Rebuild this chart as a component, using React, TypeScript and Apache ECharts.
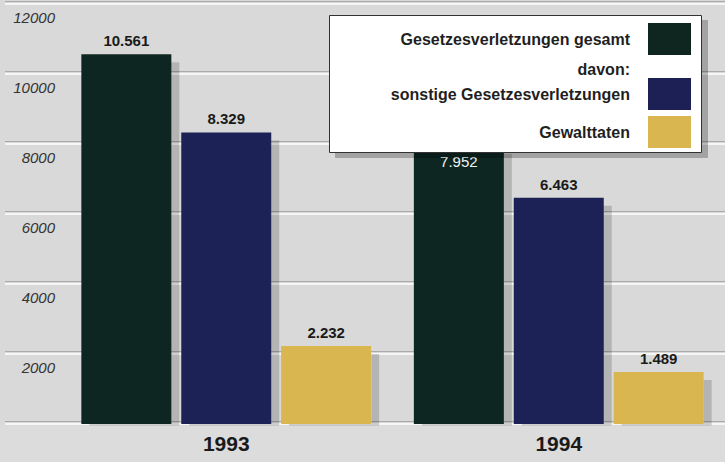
import React, { useEffect, useRef } from "react";
import * as echarts from "echarts";

const years = ["1993", "1994"];
const gesamt = [10561, 7952];
const sonstige = [8329, 6463];
const gewalt = [2232, 1489];
const seriesNames = [
  "Gesetzesverletzungen gesamt",
  "sonstige Gesetzesverletzungen",
  "Gewalttaten",
];
const colors = ["#0f2620", "#1c2054", "#d9b64f"];
const yMax = 12000;
const yStep = 2000;

const fmt = (v: number) => {
  const s = String(Math.round(v));
  return s.replace(/\B(?=(\d{3})+(?!\d))/g, ".");
};

const FONT = "'Liberation Sans', Arial, sans-serif";

export default function App() {
  const ref = useRef<HTMLDivElement>(null);
  useEffect(() => {
    document.body.style.margin = "0";
    const chart = echarts.init(ref.current!, null, { renderer: "svg" });
    const labelStyle = {
      show: true,
      position: "top" as const,
      distance: 6,
      fontFamily: FONT,
      fontWeight: "bold" as const,
      fontSize: 15,
      color: "#1a1a1a",
      formatter: (p: any) => fmt(p.value),
    };
    const itemShadow = {
      shadowColor: "rgba(0,0,0,0.17)",
      shadowOffsetX: 8,
      shadowOffsetY: 8,
      shadowBlur: 0,
    };
    const mk = (i: number, vals: number[]) => ({
      type: "bar",
      name: seriesNames[i],
      xAxisIndex: 2,
      yAxisIndex: 2,
      barWidth: 90,
      barGap: "11%",
      itemStyle: { color: colors[i], ...itemShadow },
      label: labelStyle,
      data: vals.map((v, j) =>
        i === 0 && j === 1
          ? {
              value: v,
              label: {
                position: "insideTop",
                distance: 8,
                color: "#f2f2f2",
                fontWeight: "normal",
              },
            }
          : v
      ),
    });
    const legendBase = (i: number, top: number) => ({
      data: [seriesNames[i]],
      orient: "vertical",
      align: "right",
      right: 34,
      top,
      padding: 0,
      itemWidth: 43,
      itemHeight: 32,
      icon: "rect",
      z: 5,
      selectedMode: false,
      textStyle: {
        fontFamily: FONT,
        fontWeight: "bold",
        fontSize: 16,
        color: "#1f1f1f",
        padding: [0, 13, 0, 0],
      },
    });
    const lineAxis = (g: number, color: string, width: number) => ({
      gridIndex: g,
      type: "value",
      min: 0,
      max: yMax,
      interval: yStep,
      axisLine: { show: false },
      axisTick: { show: false },
      axisLabel: { show: false },
      splitLine: { lineStyle: { color, width } },
    });
    chart.setOption({
      animation: false,
      backgroundColor: "#d9d9d9",
      grid: [
        { left: 5, right: 0, top: 1.5, bottom: 40.5 },
        { left: 5, right: 0, top: 4, bottom: 38 },
        { left: 60, right: 0, top: 4, bottom: 38 },
      ],
      xAxis: [
        { gridIndex: 0, type: "value", show: false, min: 0, max: 1 },
        { gridIndex: 1, type: "value", show: false, min: 0, max: 1 },
        {
          gridIndex: 2,
          type: "category",
          data: years,
          z: 10,
          axisLine: { show: false },
          axisTick: { show: false },
          axisLabel: {
            margin: 9,
            fontFamily: FONT,
            fontWeight: "bold",
            fontSize: 21,
            color: "#1a1a1a",
          },
        },
      ],
      yAxis: [
        lineAxis(0, "#aaaaaa", 1),
        lineAxis(1, "#f6f6f6", 2),
        {
          gridIndex: 2,
          type: "value",
          min: 0,
          max: yMax,
          interval: yStep,
          axisLine: { show: false },
          axisTick: { show: false },
          splitLine: { show: false },
          axisLabel: {
            margin: 5,
            verticalAlign: "top",
            padding: [6, 0, 0, 0],
            fontFamily: FONT,
            fontStyle: "italic",
            fontSize: 15,
            color: "#333",
            formatter: (v: number) => (v === 0 ? "" : String(v)),
          },
        },
      ],
      legend: [legendBase(0, 23), legendBase(1, 78), legendBase(2, 116)],
      graphic: [
        {
          type: "rect",
          z: 3,
          shape: { x: 0, y: 425.5, width: 725, height: 37 },
          style: { fill: "#dcdcdc" },
        },
        {
          type: "rect",
          z: 3,
          shape: { x: 329.5, y: 15.5, width: 372, height: 137 },
          style: {
            fill: "#ffffff",
            stroke: "#333333",
            lineWidth: 1,
            shadowColor: "rgba(0,0,0,0.25)",
            shadowOffsetX: 6,
            shadowOffsetY: 5,
            shadowBlur: 0,
          },
        },
        {
          type: "text",
          z: 4,
          x: 630,
          y: 69,
          style: {
            text: "davon:",
            align: "right",
            verticalAlign: "middle",
            font: `bold 16px ${FONT}`,
            fill: "#1f1f1f",
          },
        },
      ],
      series: [mk(0, gesamt), mk(1, sonstige), mk(2, gewalt)],
    });
    return () => chart.dispose();
  }, []);
  return <div ref={ref} style={{ width: 725, height: 462 }} />;
}
